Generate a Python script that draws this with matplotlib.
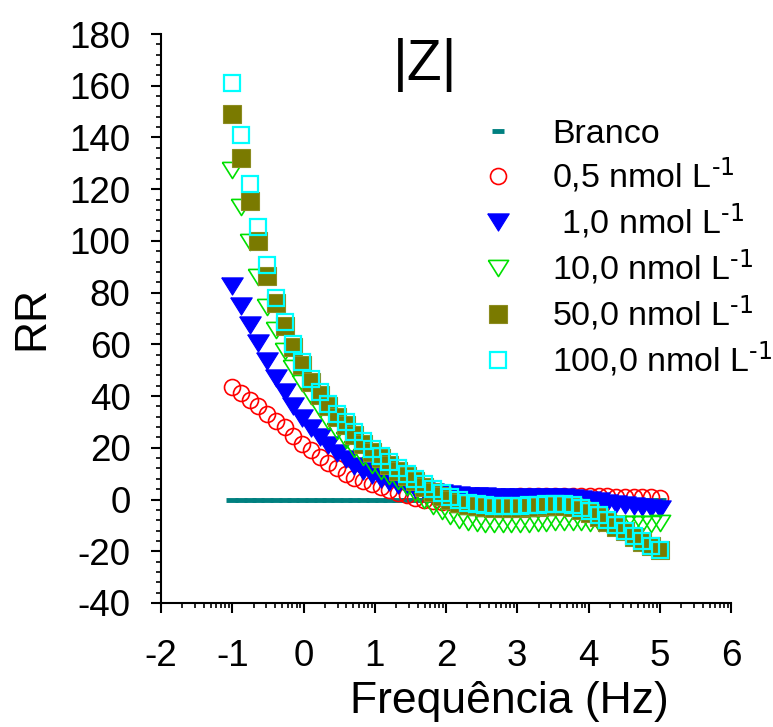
import matplotlib
matplotlib.use("Agg")
import matplotlib.pyplot as plt
import numpy as np
from matplotlib.ticker import FixedLocator, MultipleLocator

plt.rcParams["font.family"] = ["Liberation Sans", "DejaVu Sans"]
plt.rcParams["mathtext.default"] = "regular"
plt.rcParams["axes.unicode_minus"] = False

# log10 of frequency, 50 points from 0.1 Hz to 100 kHz
log_freq = np.linspace(-1, 5, 50)

branco = [0.0] * 50
c_0_5 = [43.5, 41, 38.5, 36, 33, 30.5, 28, 24.5, 21.5, 19,
         16.5, 14, 12, 10, 8.5, 7.2, 6, 4.8, 3.8, 2.7,
         1.6, 0.6, -0.2, -0.7, -0.9, -0.8, -0.5, -0.1, 0.3, 0.6,
         0.9, 1.1, 1.1, 1.2, 1.2, 1.2, 1.2, 1.2, 1.2, 1.2,
         1.2, 1.2, 1.2, 1.2, 1.1, 1.1, 1.1, 1.0, 0.9, 0.7]
c_1_0 = [82.5, 75, 67.5, 60.5, 53.5, 47, 41.5, 36, 31.5, 27.5,
         24, 21, 18, 15.5, 13, 11, 9.5, 8, 6.8, 5.7,
         4.8, 4, 3.3, 2.8, 2.4, 2, 1.7, 1.5, 1.3, 1.2,
         1.1, 1, 1, 1, 1, 1, 1, 1, 0.9, 0.7,
         0.3, -0.2, -0.7, -1.2, -1.7, -2.2, -2.6, -3, -3.4, -3.8]
c_10_0 = [127.5, 113, 99.5, 86, 74.5, 65.5, 57.5, 51, 45, 40,
          35, 30.5, 26.5, 23, 19.5, 16.5, 13.5, 11, 9, 7,
          5, 2.5, 0, -2.5, -4.5, -6.5, -8, -8.8, -9.2, -9.4,
          -9.5, -9.5, -9.5, -9.5, -9.4, -9.2, -9, -8.8, -8.7, -8.7,
          -8.8, -9, -9.2, -9.3, -9.4, -9.5, -9.5, -9.5, -9.4, -9.2]
c_50_0 = [149, 132, 115.5, 100, 86.5, 76, 67, 59, 52, 45.5,
          40.5, 36, 32, 28.8, 25, 21.5, 18.5, 16, 13.5, 11,
          9, 7, 5, 3, 1.5, 0, -1.2, -2, -2.6, -3,
          -3.2, -3.3, -3.3, -3.2, -3, -2.8, -2.6, -2.5, -2.6, -3,
          -4, -5.3, -6.8, -8.5, -10.5, -12.3, -14.3, -16.3, -18, -19.5]
c_100_0 = [161, 141, 122, 105.5, 90.5, 78, 68.5, 60, 53, 46.5,
           41.5, 37, 33, 29.8, 26, 22.5, 19.5, 17, 14.5, 12,
           10, 8, 6, 4, 2.5, 1, -0.3, -1.2, -1.8, -2.2,
           -2.5, -2.6, -2.6, -2.5, -2.3, -2.1, -1.9, -1.8, -1.8, -2.2,
           -3.2, -4.5, -6, -8, -10, -12, -14, -16, -18, -19.5]

unit = r" nmol L$^{\text{-1}}$"
labels = ["Branco", "0,5" + unit, " 1,0" + unit,
          "10,0" + unit, "50,0" + unit, "100,0" + unit]

# downward triangle a bit wider than tall
tri_down = [(-1, 0.8), (1, 0.8), (0, -0.8), (-1, 0.8)]

fig = plt.figure(figsize=(7.73, 7.27), dpi=100)
ax = fig.add_axes([0.2083, 0.1706, 0.7374, 0.7826])

ax.plot(log_freq, branco, ls="none", marker="_", ms=9, mew=3.5,
        color="#008080", label=labels[0])
ax.plot(log_freq, c_0_5, ls="none", marker="o", ms=11.5, mew=1.2,
        mfc="none", mec="#ff0000", label=labels[1])
ax.plot(log_freq, c_1_0, ls="none", marker=tri_down, ms=15.5, mew=0.8,
        mfc="#0000ff", mec="#0000ff", label=labels[2])
ax.plot(log_freq, c_10_0, ls="none", marker=tri_down, ms=14.5, mew=1.2,
        mfc="none", mec="#00e000", label=labels[3])
ax.plot(log_freq, c_50_0, ls="none", marker="s", ms=12.5, mew=0.8,
        mfc="#7a7a00", mec="#8c8c20", label=labels[4])
ax.plot(log_freq, c_100_0, ls="none", marker="s", ms=11.5, mew=1.6,
        mfc="none", mec="#00ffff", label=labels[5])

ax.set_xlim(-2, 6)
ax.set_ylim(-40, 180)
ax.xaxis.set_major_locator(MultipleLocator(1))
ax.yaxis.set_major_locator(MultipleLocator(20))
ax.yaxis.set_minor_locator(MultipleLocator(4))
minor_x = [d + np.log10(m) for d in range(-2, 6) for m in range(2, 10)]
ax.xaxis.set_minor_locator(FixedLocator(minor_x))

for side in ("top", "right"):
    ax.spines[side].set_visible(False)
for side in ("left", "bottom"):
    ax.spines[side].set_linewidth(1.5)

ax.tick_params(which="major", direction="out", length=7, width=1.5,
               labelsize=26.5)
ax.tick_params(which="minor", direction="out", length=3.5, width=1.2)
ax.tick_params(axis="y", which="major", pad=15)
ax.tick_params(axis="x", which="major", pad=19)

ax.set_ylabel("RR", fontsize=32, labelpad=12)
ax.set_xlabel("Frequência (Hz)", fontsize=32)
ax.xaxis.set_label_coords(0.611, -0.137)

ax.text(0.463, 0.945, "|Z|", transform=ax.transAxes, fontsize=41,
        ha="center", va="center")

ax.legend(loc="upper left", bbox_to_anchor=(0.622, 0.837),
          bbox_transform=fig.transFigure, frameon=False, fontsize=24.5,
          numpoints=1, handlelength=1.0, handletextpad=1.1,
          labelspacing=0.2, borderpad=0, borderaxespad=0)

fig.savefig("out.png", dpi=100)
